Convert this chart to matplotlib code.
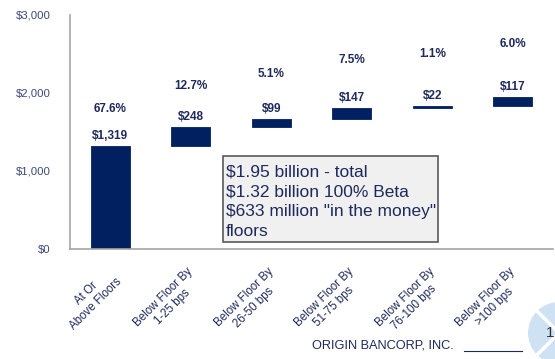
import matplotlib
matplotlib.use("Agg")
import matplotlib.pyplot as plt
from matplotlib.patches import Circle, FancyBboxPatch
import matplotlib.transforms as mtransforms
import numpy as np

plt.rcParams['font.family'] = ['Liberation Sans', 'DejaVu Sans']

# Floor buckets (in $ millions) and share of total
categories = ["At Or\nAbove Floors", "Below Floor By\n1-25 bps", "Below Floor By\n26-50 bps",
              "Below Floor By\n51-75 bps", "Below Floor By\n76-100 bps", "Below Floor By\n>100 bps"]
amounts = [1319, 248, 99, 147, 22, 117]
shares = ["67.6%", "12.7%", "5.1%", "7.5%", "1.1%", "6.0%"]
y_ticks = [0, 1000, 2000, 3000]
y_tick_labels = ["$0", "$1,000", "$2,000", "$3,000"]

# vertical offsets (points) of the share labels above each bar
share_offsets = [26.6, 29.5, 32.4, 34.6, 37.4, 38.2]

NAVY = "#002060"
TEXT = "#1f2a5c"
AXIS_TXT = "#3b4a7a"
SPINE = "#a6a6a6"

fig = plt.figure(figsize=(5.55, 3.59), dpi=100)
ax = fig.add_axes([70/555, 1-249/359, 483/555, (249-15)/359])

x = np.arange(len(amounts))
bottoms = np.concatenate([[0], np.cumsum(amounts)[:-1]])
tops = bottoms + np.array(amounts)

ax.bar(x, amounts, bottom=bottoms, width=0.49, color=NAVY, edgecolor=NAVY, linewidth=0.6)

for xi, top, amt, share, off in zip(x, tops, amounts, shares, share_offsets):
    ax.annotate(f"${amt:,}", (xi, top), xytext=(0, 7.2), textcoords="offset points",
                ha="center", va="center", fontsize=8.5, fontweight="bold", color=TEXT)
    ax.annotate(share, (xi, top), xytext=(0, off), textcoords="offset points",
                ha="center", va="center", fontsize=8.5, fontweight="bold", color=TEXT)

ax.set_xlim(-0.5, len(amounts) - 0.5)
ax.set_ylim(0, 3000)
ax.set_yticks(y_ticks)
ax.set_yticklabels(y_tick_labels, fontsize=8.2, color=AXIS_TXT)
ax.tick_params(axis="y", length=0, pad=14)
ax.set_xticks(x)
ax.set_xticklabels(categories, rotation=45, ha="right", va="top", fontsize=8.3,
                   color=TEXT, multialignment="center")
ax.tick_params(axis="x", length=0, pad=12)
shift = mtransforms.ScaledTranslation(0.14, 0, fig.dpi_scale_trans)
for lbl in ax.get_xticklabels():
    lbl.set_transform(lbl.get_transform() + shift)

for s in ["top", "right"]:
    ax.spines[s].set_visible(False)
for s in ["left", "bottom"]:
    ax.spines[s].set_color(SPINE)
    ax.spines[s].set_linewidth(1.2)

# summary box
box = FancyBboxPatch((223/555, 1-242/359), (438-223)/555, (242-156)/359,
                     boxstyle="square,pad=0", transform=fig.transFigure,
                     facecolor="#f0f0f0", edgecolor="#595959", linewidth=1.2, zorder=5)
fig.patches.append(box)
fig.text(226/555, 1-164/359,
         "$1.95 billion - total\n$1.32 billion 100% Beta\n$633 million \"in the money\"\nfloors",
         ha="left", va="top", fontsize=12.5, color=TEXT, linespacing=1.42, zorder=6)

# footer
fig.text(312/555, 1-345/359, "ORIGIN BANCORP, INC.", ha="left", va="center",
         fontsize=9.2, color=TEXT)
fig.add_artist(plt.Line2D([464/555, 522/555], [1-351/359, 1-351/359],
                          transform=fig.transFigure, color=TEXT, linewidth=0.8))

# page badge
cx, cy, r = 559, 333, 31
circ = Circle((cx, 359 - cy), r, transform=None, facecolor="#cfe2f3", edgecolor="none")
fig.patches.append(circ)
for ang in (45, 135, 225, 315):
    a = np.deg2rad(ang)
    fig.add_artist(plt.Line2D([cx/555, (cx + r*np.cos(a))/555],
                              [1-cy/359, 1-(cy - r*np.sin(a))/359],
                              transform=fig.transFigure, color="white", linewidth=2.5))
fig.text(550/555, 1-333/359, "1", ha="center", va="center", fontsize=11, color="#333333")

fig.savefig("out.png", dpi=100)
